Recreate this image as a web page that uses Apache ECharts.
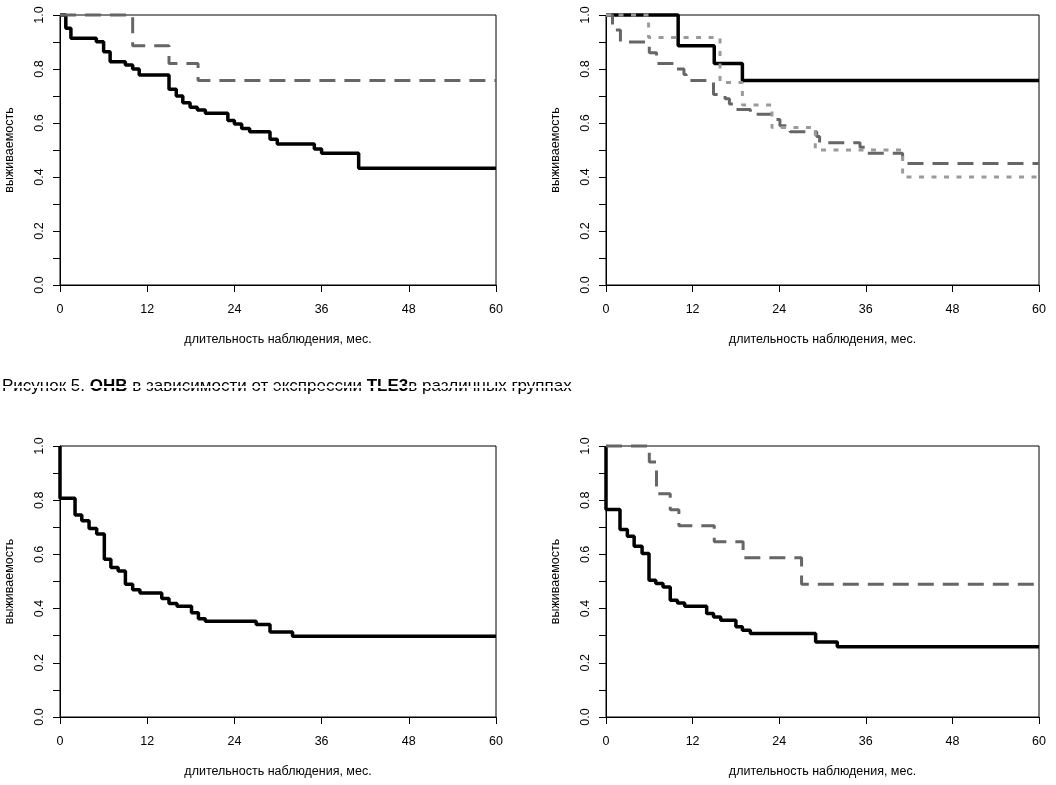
<!DOCTYPE html>
<html>
<head>
<meta charset="utf-8">
<script src="https://cdn.jsdelivr.net/npm/echarts@6/dist/echarts.min.js"></script>
<style>
html,body{margin:0;padding:0;background:#fff;}
#chart{width:1056px;height:785px;}
</style>
</head>
<body>
<div id="chart"></div>
<script>
// ---- data (months, survival) ----
const xTicks = [0, 12, 24, 36, 48, 60];
const xTitle = 'длительность наблюдения, мес.';
const yTitle = 'выживаемость';
const caption = ['Рисунок 5. ', 'ОНВ', ' в зависимости от экспрессии ', 'TLE3', 'в различных группах'];

// top-left
const tlSolidT = [0, 0.8, 1.5, 5, 6, 6.9, 9, 10, 10.9, 15, 16, 16.9, 17.9, 18.9, 20, 23.1, 24, 25, 26.1, 28.9, 29.9, 35, 36, 41.1, 60];
const tlSolidS = [1, 0.951, 0.914, 0.901, 0.864, 0.827, 0.815, 0.80, 0.778, 0.725, 0.70, 0.675, 0.658, 0.648, 0.636, 0.609, 0.596, 0.58, 0.568, 0.54, 0.522, 0.504, 0.488, 0.432, 0.432];
const tlDashT = [0, 10, 15, 19, 60];
const tlDashS = [1, 0.886, 0.82, 0.757, 0.757];

// top-right
const trSolidT = [0, 10, 15, 18.9, 60];
const trSolidS = [1, 0.886, 0.82, 0.757, 0.757];
const trDashT = [0, 0.9, 2.0, 6.0, 7.0, 9.7, 10.8, 11.1, 14.9, 16.5, 17.1, 17.8, 20, 23.4, 24.1, 25.5, 29.2, 29.6, 35.2, 36, 41.1, 60];
const trDashS = [1, 0.944, 0.90, 0.86, 0.82, 0.80, 0.78, 0.757, 0.706, 0.69, 0.67, 0.65, 0.632, 0.613, 0.59, 0.568, 0.55, 0.527, 0.51, 0.488, 0.45, 0.45];
const trDotT = [0, 5.9, 15.8, 18.9, 23, 29, 41.1, 60];
const trDotS = [1, 0.917, 0.75, 0.667, 0.583, 0.50, 0.40, 0.40];

// bottom-left
const blSolidT = [0, 0, 2.07, 3, 4, 5.05, 6.1, 7, 8, 9, 10, 11, 14, 15, 16.1, 18.1, 19.05, 20, 27, 28.9, 32, 60];
const blSolidS = [1, 0.807, 0.745, 0.724, 0.696, 0.675, 0.582, 0.552, 0.539, 0.49, 0.47, 0.458, 0.437, 0.419, 0.409, 0.385, 0.363, 0.353, 0.341, 0.314, 0.298, 0.298];

// bottom-right
const brSolidT = [0, 0, 1.94, 2.96, 3.9, 5, 5.96, 6.9, 7.9, 8.9, 9.9, 10.9, 13.95, 14.9, 15.9, 18, 18.9, 20, 29.05, 32.05, 60];
const brSolidS = [1, 0.766, 0.692, 0.667, 0.63, 0.603, 0.505, 0.493, 0.48, 0.431, 0.421, 0.409, 0.382, 0.369, 0.357, 0.333, 0.32, 0.308, 0.277, 0.259, 0.259];
const brDashT = [0, 6.0, 7.0, 8.9, 10.1, 15, 19, 27.1, 60];
const brDashS = [1, 0.941, 0.824, 0.765, 0.706, 0.647, 0.588, 0.49, 0.49];

// ---- build ----
const pairs = (t, s) => t.map((v, i) => [v, s[i]]);
const FONT = 'Liberation Sans, Arial, sans-serif';
const grids = [
  {left: 60, top: 15, width: 436, height: 270},
  {left: 606, top: 15, width: 433, height: 270},
  {left: 60, top: 446, width: 436, height: 271},
  {left: 606, top: 446, width: 433, height: 271}
].map(g => Object.assign({show: true, borderColor: '#000', borderWidth: 1, backgroundColor: 'transparent'}, g));

const xAxes = grids.map((g, i) => ({
  type: 'value', gridIndex: i, min: xTicks[0], max: xTicks[xTicks.length - 1], interval: 12,
  axisLine: {show: true, onZero: false, lineStyle: {color: '#000', width: 1}},
  axisTick: {show: true, length: 7, lineStyle: {color: '#000'}},
  splitLine: {show: false},
  axisLabel: {color: '#000', fontFamily: FONT, fontSize: 12.5, margin: 18},
  name: xTitle, nameLocation: 'middle', nameGap: 48,
  nameTextStyle: {color: '#000', fontFamily: FONT, fontSize: 12.5}
}));
const yAxes = grids.map((g, i) => ({
  type: 'value', gridIndex: i, min: 0, max: 1, interval: 0.1,
  axisLine: {show: true, lineStyle: {color: '#000', width: 1}},
  axisTick: {show: true, length: 7, lineStyle: {color: '#000'}},
  splitLine: {show: false},
  axisLabel: {color: '#000', fontFamily: FONT, fontSize: 12.5, rotate: 90, margin: 14,
    formatter: v => (Math.round(v * 10) % 2 === 0 ? v.toFixed(1) : '')},
  name: yTitle, nameLocation: 'middle', nameGap: 44,
  nameTextStyle: {color: '#000', fontFamily: FONT, fontSize: 12.5}
}));

function km(idx, data, style) {
  const ls = {solid: {color: '#000', width: 3.5, type: 'solid'},
              dash: {color: '#666', width: 3, type: [16, 9]},
              dot: {color: '#9a9a9a', width: 3, type: [5, 7.5]}}[style];
  return {type: 'line', xAxisIndex: idx, yAxisIndex: idx, step: 'end', data: data,
    showSymbol: false, symbol: 'none', clip: false, lineStyle: ls, z: style === 'solid' ? 3 : 4};
}

const series = [
  km(0, pairs(tlSolidT, tlSolidS), 'solid'),
  km(0, pairs(tlDashT, tlDashS), 'dash'),
  km(1, pairs(trSolidT, trSolidS), 'solid'),
  km(1, pairs(trDashT, trDashS), 'dash'),
  km(1, pairs(trDotT, trDotS), 'dot'),
  km(2, pairs(blSolidT, blSolidS), 'solid'),
  km(3, pairs(brSolidT, brSolidS), 'solid'),
  km(3, pairs(brDashT, brDashS), 'dash')
];

const chart = echarts.init(document.getElementById('chart'), null, {renderer: 'canvas'});
chart.setOption({
  animation: false,
  backgroundColor: '#fff',
  grid: grids, xAxis: xAxes, yAxis: yAxes, series: series,
  graphic: [
    {type: 'text', left: 2, top: 378, z: 10,
      style: {
        text: '{n|' + caption[0] + '}{b|' + caption[1] + '}{n|' + caption[2] + '}{b|' + caption[3] + '}{n|' + caption[4] + '}',
        rich: {
          n: {fontFamily: FONT, fontSize: 17, fill: '#000'},
          b: {fontFamily: FONT, fontSize: 17, fontWeight: 'bold', fill: '#000'}
        }
      }},
    {type: 'rect', left: 0, top: 386, z: 11, silent: true,
      shape: {width: 580, height: 2}, style: {fill: '#fff'}}
  ]
});
</script>
</body>
</html>
